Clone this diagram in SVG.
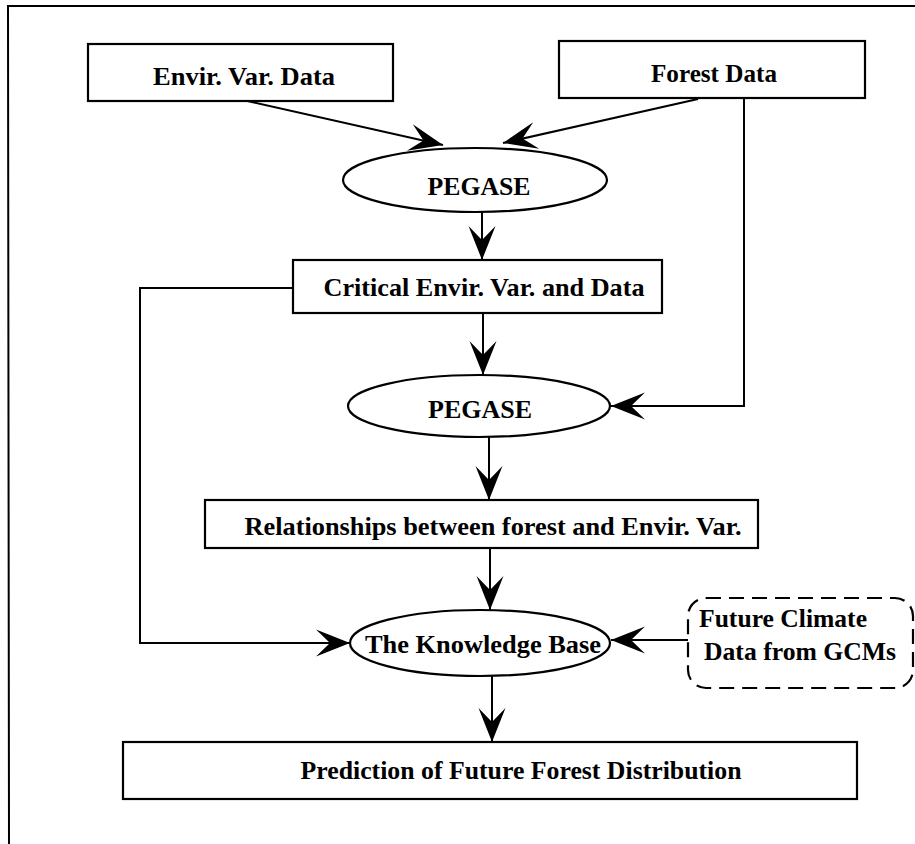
<svg xmlns="http://www.w3.org/2000/svg" width="915" height="844" viewBox="0 0 915 844">
<style>
.box{fill:#fff;stroke:#000;stroke-width:2.2}
.dash{fill:#fff;stroke:#000;stroke-width:2.2;stroke-dasharray:15 8}
.con{fill:none;stroke:#000;stroke-width:2}
.t{font-family:"Liberation Serif","Times New Roman",serif;font-weight:bold;font-size:26px;fill:#000}
.c{text-anchor:middle}
</style>
<defs>
<marker id="ah" viewBox="-35 -15 36 30" refX="0" refY="0" markerWidth="36" markerHeight="30" markerUnits="userSpaceOnUse" orient="auto">
<path d="M0,0 L-34,-13.5 L-20,0 L-34,13.5 Z" fill="#000"/>
</marker>
</defs>
<rect width="915" height="844" fill="#fff"/>
<path d="M9,844 L8,6 L915,6" fill="none" stroke="#000" stroke-width="2"/>
<g id="connectors">
<line class="con" x1="243" y1="100" x2="443" y2="145" marker-end="url(#ah)"/>
<line class="con" x1="698" y1="99" x2="503" y2="143" marker-end="url(#ah)"/>
<line class="con" x1="482" y1="212" x2="482" y2="260" marker-end="url(#ah)"/>
<line class="con" x1="483" y1="313" x2="483" y2="375" marker-end="url(#ah)"/>
<polyline class="con" points="744,98 744,406 611,406" marker-end="url(#ah)"/>
<line class="con" x1="489" y1="437" x2="489" y2="500" marker-end="url(#ah)"/>
<line class="con" x1="490" y1="548" x2="490" y2="610" marker-end="url(#ah)"/>
<polyline class="con" points="293,288 140,288 140,643 350,643" marker-end="url(#ah)"/>
<line class="con" x1="688" y1="640" x2="611" y2="640" marker-end="url(#ah)"/>
<line class="con" x1="492" y1="676" x2="492" y2="742" marker-end="url(#ah)"/>
</g>
<g id="envir-data">
<rect class="box" x="88" y="44" width="305" height="57"/>
<text class="t c" x="244" y="85" textLength="182" lengthAdjust="spacingAndGlyphs">Envir. Var. Data</text>
</g>
<g id="forest-data">
<rect class="box" x="559" y="41" width="306" height="57"/>
<text class="t c" x="714" y="82" textLength="126" lengthAdjust="spacingAndGlyphs">Forest Data</text>
</g>
<g id="pegase1">
<ellipse class="box" cx="475" cy="180" rx="132" ry="32"/>
<text class="t c" x="479" y="195" textLength="103" lengthAdjust="spacingAndGlyphs">PEGASE</text>
</g>
<g id="critical">
<rect class="box" x="293" y="260" width="369" height="53"/>
<text class="t c" x="484" y="296" textLength="321" lengthAdjust="spacingAndGlyphs">Critical Envir. Var. and Data</text>
</g>
<g id="pegase2">
<ellipse class="box" cx="479" cy="406" rx="131" ry="31"/>
<text class="t c" x="480" y="418" textLength="104" lengthAdjust="spacingAndGlyphs">PEGASE</text>
</g>
<g id="relationships">
<rect class="box" x="205" y="500" width="553" height="48"/>
<text class="t c" x="493" y="535" textLength="497" lengthAdjust="spacingAndGlyphs">Relationships between forest and Envir. Var.</text>
</g>
<g id="knowledge-base">
<ellipse class="box" cx="480" cy="643" rx="130" ry="33"/>
<text class="t c" x="483" y="653" textLength="236" lengthAdjust="spacingAndGlyphs">The Knowledge Base</text>
</g>
<g id="future-climate">
<rect class="dash" x="688" y="598" width="225" height="90" rx="18" ry="18"/>
<text class="t" x="699" y="627" textLength="168" lengthAdjust="spacingAndGlyphs">Future Climate</text>
<text class="t" x="704" y="660" textLength="192" lengthAdjust="spacingAndGlyphs">Data from GCMs</text>
</g>
<g id="prediction">
<rect class="box" x="123" y="742" width="734" height="57"/>
<text class="t c" x="521" y="779" textLength="441" lengthAdjust="spacingAndGlyphs">Prediction of Future Forest Distribution</text>
</g>
</svg>
